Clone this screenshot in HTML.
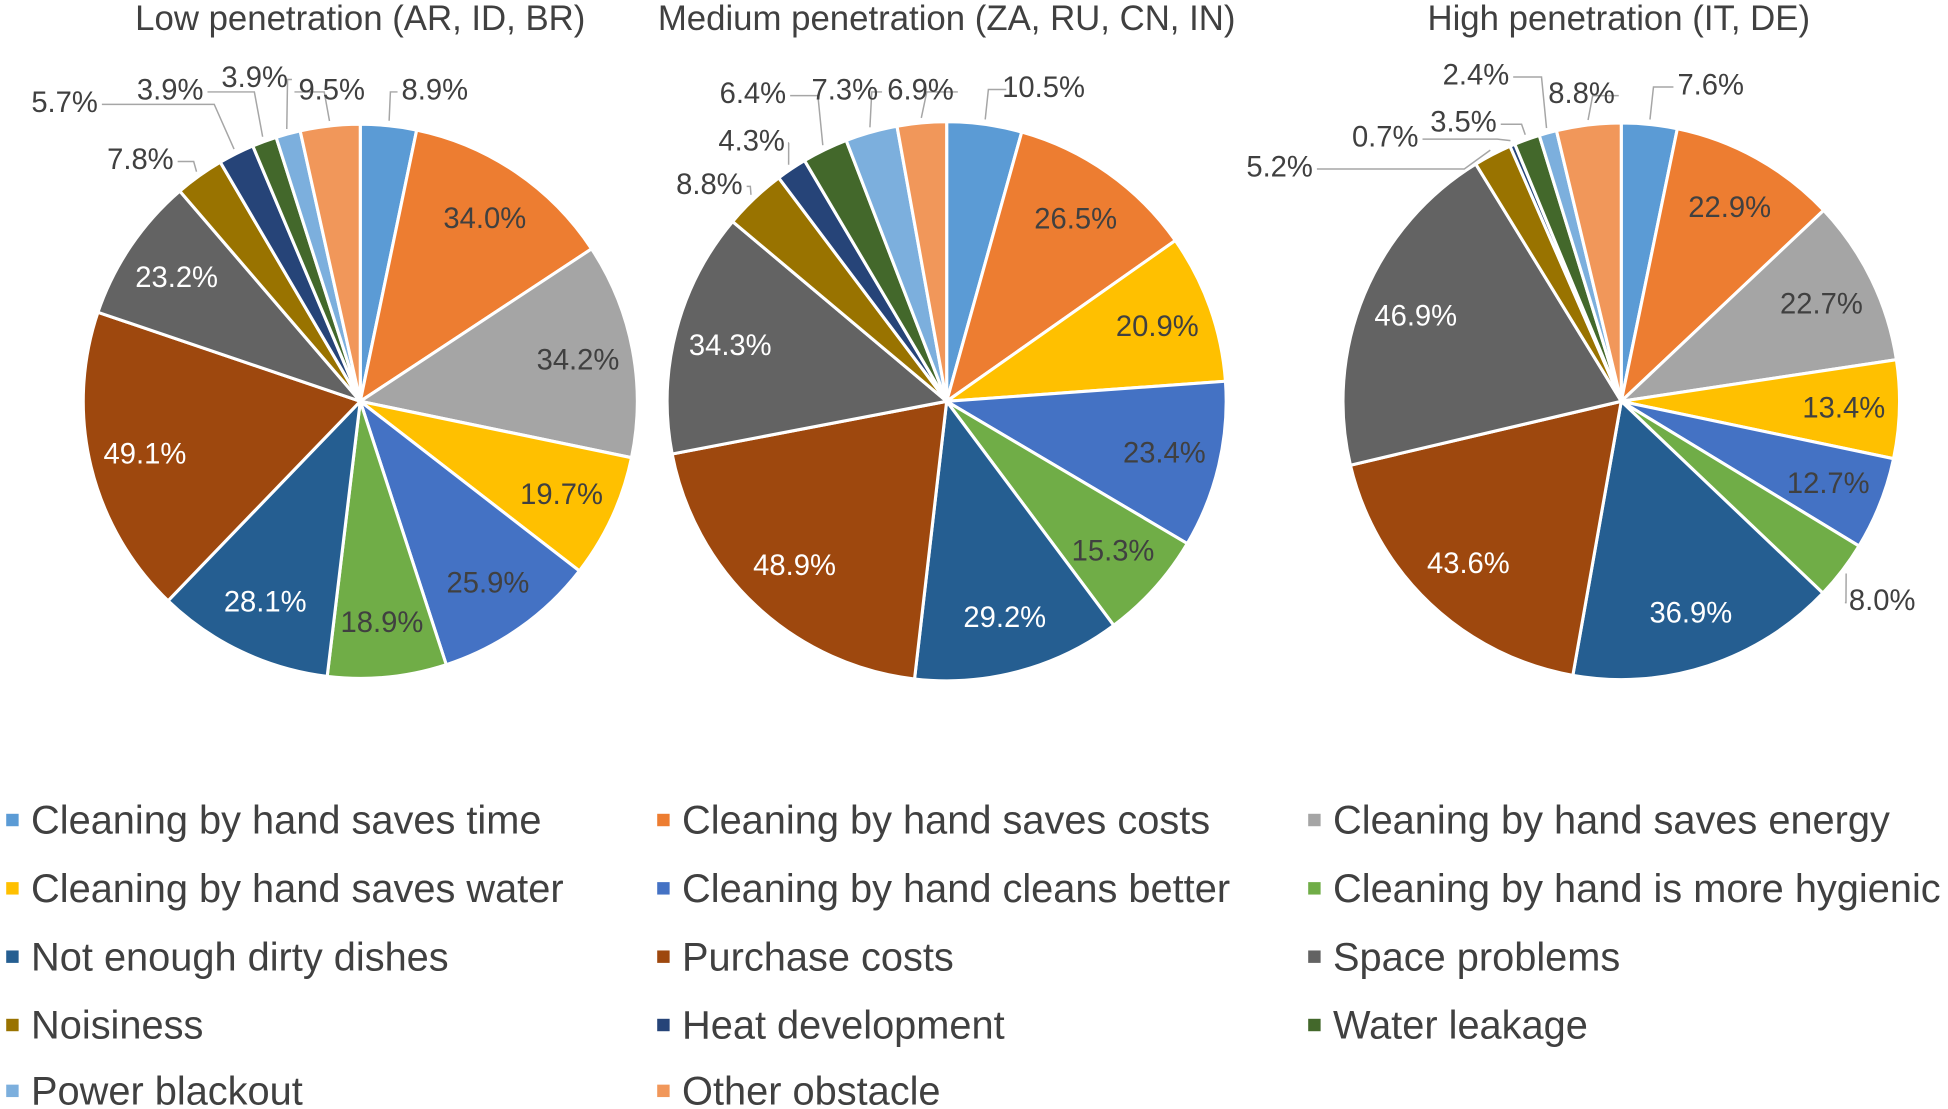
<!DOCTYPE html>
<html><head><meta charset="utf-8"><style>
html,body{margin:0;padding:0;background:#fff;}
svg{display:block;font-family:"Liberation Sans",Arial,sans-serif;}
</style></head><body>
<svg id="chart" width="1948" height="1109" viewBox="0 0 1568 892.6" preserveAspectRatio="none" xmlns="http://www.w3.org/2000/svg"></svg>
<script>
const categories = ["Cleaning by hand saves time","Cleaning by hand saves costs","Cleaning by hand saves energy","Cleaning by hand saves water","Cleaning by hand cleans better","Cleaning by hand is more hygienic","Not enough dirty dishes","Purchase costs","Space problems","Noisiness","Heat development","Water leakage","Power blackout","Other obstacle"];
const lowValues = [8.9,34.0,34.2,19.7,25.9,18.9,28.1,49.1,23.2,7.8,5.7,3.9,3.9,9.5];
const mediumValues = [10.5,26.5,0,20.9,23.4,15.3,29.2,48.9,34.3,8.8,4.3,6.4,7.3,6.9];
const highValues = [7.6,22.9,22.7,13.4,12.7,8.0,36.9,43.6,46.9,5.2,0.7,3.5,2.4,8.8];
const chartTitles = ["Low penetration (AR, ID, BR)","Medium penetration (ZA, RU, CN, IN)","High penetration (IT, DE)"];

const colors = ["#5B9BD5","#ED7D31","#A5A5A5","#FFC000","#4472C4","#70AD47","#255E91","#9E480E","#636363","#997300","#264478","#43682B","#7CAFDD","#F1975A"];
const whiteText = [false,false,false,false,false,false,true,true,true,false,true,false,false,false];
const NS = "http://www.w3.org/2000/svg";
const svg = document.getElementById('chart');
function mk(tag, attrs, parent){const e=document.createElementNS(NS,tag);for(const k in attrs)e.setAttribute(k,attrs[k]);(parent||svg).appendChild(e);return e;}

const pies = [
  {vals: lowValues, cx:290, cy:323, r:223, tx:290,
   outside:{0:[350,72],13:[267,72],12:[205,62],11:[137,72],10:[52,82],9:[113,128]}},
  {vals: mediumValues, cx:762, cy:323, r:225, tx:762,
   outside:{0:[840,70],13:[741,72],12:[680,72],11:[606,75],10:[605,113],9:[571,148]}},
  {vals: highValues, cx:1305, cy:323, r:224, tx:1303,
   outside:{0:[1377,68],13:[1273,75],12:[1188,60],11:[1178,98],10:[1115,110],9:[1030,134],5:[1515,483]}}
];

pies.forEach((p, pi) => {
  const g = mk('g', {});
  
  
  const t = mk('text', {x:p.tx, y:24, 'text-anchor':'middle', 'font-size':28, fill:'#404040'}, g);
  t.textContent = chartTitles[pi];
  
  
  const total = p.vals.reduce((a,b)=>a+b,0);
  let a0 = 0;
  const pt = (ang, rr) => [p.cx + rr*Math.sin(ang), p.cy - rr*Math.cos(ang)];
  p.vals.forEach((v, i) => {
    const sweep = v/total*2*Math.PI;
    const a1 = a0 + sweep;
    const mid = (a0+a1)/2;
    if (v > 0) {
      const [x0,y0] = pt(a0,p.r), [x1,y1] = pt(a1,p.r);
      const s = mk('path', {d:`M${p.cx},${p.cy} L${x0},${y0} A${p.r},${p.r} 0 ${sweep>Math.PI?1:0} 1 ${x1},${y1} Z`, fill:colors[i], stroke:'#fff', 'stroke-width':2.5, 'stroke-linejoin':'round'}, g);
      
      
      const label = v.toFixed(1) + '%';
      if (p.outside[i]) {
        const [lx, ly] = p.outside[i];
        const [ex, ey] = pt(mid, p.r+4);
        const endX = lx < ex ? lx + 30 : lx - 30;
        const ln = mk('polyline', {points:`${ex},${ey} ${ex + (endX-ex)*0.15},${ly+2} ${endX},${ly+2}`, fill:'none', stroke:'#A6A6A6', 'stroke-width':1.2}, g);
        
        
        const lt = mk('text', {x:lx, y:ly+8, 'text-anchor':'middle', 'font-size':23.5, fill:'#404040'}, g);
        lt.textContent = label;
        
        
      } else {
        const [lx, ly] = pt(mid, p.r*0.8);
        const lt = mk('text', {x:lx, y:ly+8, 'text-anchor':'middle', 'font-size':23.5, fill: whiteText[i] ? '#fff' : '#404040'}, g);
        lt.textContent = label;
        
        
      }
    }
    a0 = a1;
  });
});

const lg = mk('g', {});


const colX = [5, 529, 1053], rowY = [660, 715, 770, 825, 878];
categories.forEach((c, i) => {
  const col = i % 3, row = Math.floor(i / 3);
  const e = mk('g', {}, lg);
  
  
  const m = mk('rect', {x:colX[col], y:rowY[row]-5, width:10, height:10, fill:colors[i]}, e);
  
  
  const t = mk('text', {x:colX[col]+20, y:rowY[row]+11, 'font-size':32, fill:'#404040'}, e);
  t.textContent = c;
  
  
});
</script>
</body></html>
